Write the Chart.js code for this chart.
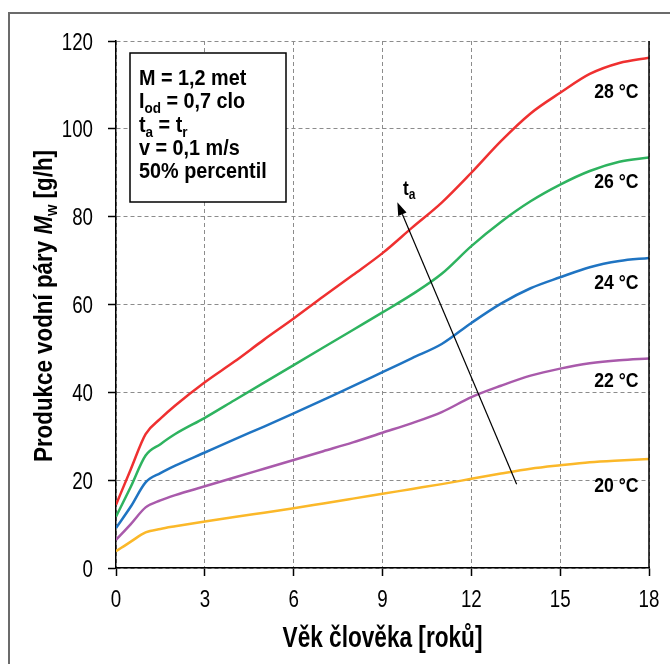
<!DOCTYPE html>
<html>
<head>
<meta charset="utf-8">
<script src="https://cdn.jsdelivr.net/npm/chart.js@4.4.1/dist/chart.umd.min.js"></script>
<style>
    html, body { margin: 0; padding: 0; background: #fff; }
    #wrap { width: 670px; height: 664px; }
</style>
</head>
<body>
<div id="wrap"><canvas id="chart"></canvas></div>
<script>
'use strict';

// age of person [years]
const ages = [0, 0.5, 1, 1.5, 2, 3, 4, 5, 6, 7, 8, 9, 10, 11, 12, 13, 14, 15, 16, 17, 18];

// water vapour production [g/h] for each air temperature
const vapour28 = [14.4, 22.5, 30.5, 34.0, 37.0, 42.3, 47.0, 52.0, 56.8, 61.8, 66.7, 71.7, 77.5, 83.2, 90.0, 97.2, 103.5, 108.2, 112.5, 115.0, 116.2];
const vapour26 = [11.7, 18.5, 25.6, 28.2, 30.5, 34.2, 38.2, 42.2, 46.2, 50.2, 54.2, 58.2, 62.3, 67.0, 73.3, 78.8, 83.5, 87.3, 90.4, 92.5, 93.5];
const vapour24 = [9.1, 14.0, 19.5, 21.6, 23.3, 26.3, 29.3, 32.2, 35.2, 38.3, 41.4, 44.6, 47.8, 51.0, 55.8, 60.2, 63.7, 66.2, 68.5, 69.9, 70.6];
const vapour22 = [6.4, 10.0, 13.8, 15.4, 16.6, 18.6, 20.6, 22.6, 24.6, 26.6, 28.6, 30.8, 33.0, 35.5, 38.9, 41.5, 43.8, 45.4, 46.6, 47.3, 47.7];
const vapour20 = [3.8, 6.0, 8.1, 8.9, 9.5, 10.6, 11.6, 12.6, 13.6, 14.7, 15.8, 16.9, 18.0, 19.1, 20.3, 21.5, 22.6, 23.4, 24.1, 24.5, 24.8];

const seriesLabels = ['28 °C', '26 °C', '24 °C', '22 °C', '20 °C'];
const seriesColors = ['#ef3030', '#2eb35f', '#1f74c2', '#a95aab', '#fbb829'];

const xTitle = 'Věk člověka [roků]';

// no narrow font installed, so text gets squeezed horizontally
const FONT = "'Liberation Sans', Arial, sans-serif";

const toPoints = (values) => values.map((v, i) => ({ x: ages[i], y: v }));

const bold = (s) => `bold ${s}px ${FONT}`;
const boldItalic = (s) => `italic bold ${s}px ${FONT}`;
const plain = (s) => `${s}px ${FONT}`;

function runsWidth(ctx, runs) {
    let w = 0;
    for (let r of runs) {
        ctx.font = r.font;
        w += ctx.measureText(r.text).width;
    }
    return w;
}

/**
 * @brief draws a row of text pieces (own font, baseline shift) squeezed by sx
 */
function drawRuns(ctx, x, y, runs, sx, align) {
    const w = runsWidth(ctx, runs) * sx;
    let start = x;
    if (align === 'center') start = x - w / 2;
    if (align === 'right') start = x - w;
    ctx.save();
    ctx.translate(start, y);
    ctx.scale(sx, 1);
    ctx.textAlign = 'left';
    ctx.textBaseline = 'alphabetic';
    let cx = 0;
    for (let r of runs) {
        ctx.font = r.font;
        ctx.fillText(r.text, cx, r.dy || 0);
        cx += ctx.measureText(r.text).width;
    }
    ctx.restore();
}

// extra drawing: frame, tick labels, axis titles, info box, labels, arrow
const decorPlugin = {
    id: 'decor',
    afterDraw(chart) {
        const ctx = chart.ctx;
        const area = chart.chartArea;
        const xs = chart.scales.x;
        const ys = chart.scales.y;
        ctx.save();

        // outer gray frame
        ctx.strokeStyle = '#6b6b6b';
        ctx.lineWidth = 2;
        ctx.strokeRect(9, 13, 720, 720);

        // right border of plot
        ctx.strokeStyle = '#000';
        ctx.lineWidth = 1.5;
        ctx.beginPath();
        ctx.moveTo(area.right, area.top);
        ctx.lineTo(area.right, area.bottom);
        ctx.stroke();

        ctx.fillStyle = '#000';

        // tick labels
        for (let t of ys.ticks) {
            drawRuns(ctx, area.left - 23, ys.getPixelForValue(t.value) + 8.5, [{ text: String(t.value), font: plain(24) }], 0.78, 'right');
        }
        for (let t of xs.ticks) {
            drawRuns(ctx, xs.getPixelForValue(t.value), area.bottom + 39, [{ text: String(t.value), font: plain(24) }], 0.78, 'center');
        }

        // x axis title
        drawRuns(ctx, (area.left + area.right) / 2, area.bottom + 78.5, [{ text: xTitle, font: bold(29) }], 0.78, 'center');

        // y axis title
        const yTitle = [
            { text: 'Produkce vodní páry ', font: bold(26) },
            { text: 'M', font: boldItalic(26) },
            { text: 'w', font: bold(17), dy: 5 },
            { text: ' [g/h]', font: bold(26) }
        ];
        ctx.save();
        ctx.translate(51.5, 306);
        ctx.rotate(-Math.PI / 2);
        drawRuns(ctx, 0, 0, yTitle, 0.86, 'center');
        ctx.restore();

        // info box
        const bx = area.left + 14, by = area.top + 12;
        ctx.strokeStyle = '#000';
        ctx.lineWidth = 1.5;
        ctx.fillStyle = '#fff';
        ctx.fillRect(bx, by, 156, 149);
        ctx.strokeRect(bx, by, 156, 149);
        ctx.fillStyle = '#000';
        const tx = bx + 9, sq = 0.9;
        drawRuns(ctx, tx, by + 32, [{ text: 'M = 1,2 met', font: bold(22) }], sq);
        drawRuns(ctx, tx, by + 55, [
            { text: 'I', font: bold(22) },
            { text: 'od', font: bold(15), dy: 5 },
            { text: ' = 0,7 clo', font: bold(22) }
        ], sq);
        drawRuns(ctx, tx, by + 79, [
            { text: 't', font: bold(22) },
            { text: 'a', font: bold(15), dy: 5 },
            { text: ' = t', font: bold(22) },
            { text: 'r', font: bold(15), dy: 5 }
        ], sq);
        drawRuns(ctx, tx, by + 102, [{ text: 'v = 0,1 m/s', font: bold(22) }], sq);
        drawRuns(ctx, tx, by + 125, [{ text: '50% percentil', font: bold(22) }], sq);

        // temperature labels at the curve ends
        const labelY = [107.0, 86.5, 63.5, 41.2, 17.3];
        for (let i = 0; i < seriesLabels.length; i++) {
            drawRuns(ctx, xs.getPixelForValue(16.9), ys.getPixelForValue(labelY[i]), [{ text: seriesLabels[i], font: bold(21) }], 0.84, 'center');
        }

        // arrow of rising air temperature
        const x1 = xs.getPixelForValue(13.53), y1 = ys.getPixelForValue(19.06);
        const x2 = xs.getPixelForValue(9.50), y2 = ys.getPixelForValue(83.3);
        const ang = Math.atan2(y2 - y1, x2 - x1);
        const head = 13, half = 4.5;
        ctx.lineWidth = 1.2;
        ctx.beginPath();
        ctx.moveTo(x1, y1);
        ctx.lineTo(x2 - Math.cos(ang) * head, y2 - Math.sin(ang) * head);
        ctx.stroke();
        ctx.beginPath();
        ctx.moveTo(x2, y2);
        ctx.lineTo(x2 - Math.cos(ang) * head - Math.sin(ang) * half, y2 - Math.sin(ang) * head + Math.cos(ang) * half);
        ctx.lineTo(x2 - Math.cos(ang) * head + Math.sin(ang) * half, y2 - Math.sin(ang) * head - Math.cos(ang) * half);
        ctx.closePath();
        ctx.fill();

        drawRuns(ctx, xs.getPixelForValue(9.69), ys.getPixelForValue(84.9), [
            { text: 't', font: bold(20) },
            { text: 'a', font: bold(14), dy: 4 }
        ], 0.86);

        ctx.restore();
    }
};

window.onload = () => {
    const datasets = [vapour28, vapour26, vapour24, vapour22, vapour20].map((vals, i) => ({
        label: seriesLabels[i],
        data: toPoints(vals),
        borderColor: seriesColors[i],
        backgroundColor: seriesColors[i],
        borderWidth: 2.5,
        pointRadius: 0,
        cubicInterpolationMode: 'monotone',
        fill: false
    }));

    const axisCommon = {
        type: 'linear',
        grid: {
            color: '#8c8c8c',
            lineWidth: 1,
            tickColor: '#000',
            tickLength: 8,
            tickWidth: 1.5,
            tickBorderDash: []
        },
        border: { display: true, color: '#000', width: 1.5, dash: [4, 3] },
        // labels are drawn by the decor plugin (squeezed font)
        ticks: { display: false }
    };

    new Chart(document.getElementById('chart'), {
        type: 'line',
        data: { datasets },
        plugins: [decorPlugin],
        options: {
            responsive: true,
            maintainAspectRatio: false,
            animation: false,
            layout: { padding: { left: 0, top: 41, right: 21, bottom: 0 } },
            plugins: {
                legend: { display: false },
                tooltip: { enabled: false }
            },
            scales: {
                x: {
                    ...axisCommon,
                    min: 0,
                    max: 18,
                    ticks: { display: false, stepSize: 3 },
                    afterFit: (scale) => { scale.height = 96; }
                },
                y: {
                    ...axisCommon,
                    min: 0,
                    max: 120,
                    ticks: { display: false, stepSize: 20 },
                    afterFit: (scale) => { scale.width = 116; }
                }
            }
        }
    });
};
</script>
</body>
</html>
